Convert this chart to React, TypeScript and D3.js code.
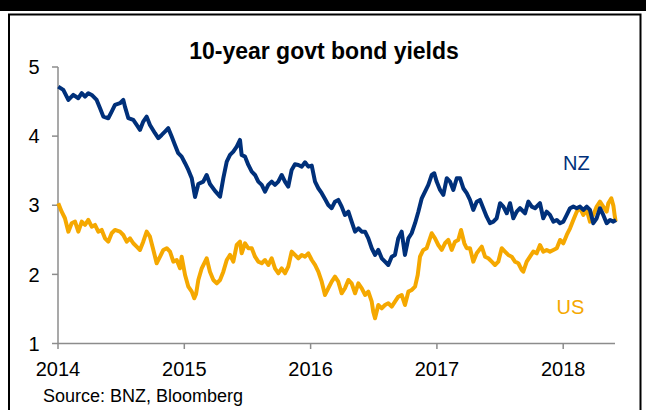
import React from "react";
import * as d3 from "d3";

const title = "10-year govt bond yields";
const sourceText = "Source: BNZ, Bloomberg";
const yTicks = [1, 2, 3, 4, 5];
const xTicks = [2014, 2015, 2016, 2017, 2018];
const seriesNames = ["NZ", "US"];

// [decimal year, yield %]
const nzSeries: [number, number][] = [
  [2014.002, 4.716], [2014.042, 4.669], [2014.082, 4.524], [2014.121, 4.596], [2014.161, 4.548],
  [2014.188, 4.621], [2014.214, 4.572], [2014.24, 4.621], [2014.267, 4.596], [2014.306, 4.524],
  [2014.333, 4.404], [2014.359, 4.282], [2014.398, 4.259], [2014.425, 4.355], [2014.451, 4.452],
  [2014.491, 4.476], [2014.517, 4.524], [2014.53, 4.427], [2014.557, 4.259], [2014.596, 4.234],
  [2014.623, 4.162], [2014.649, 4.09], [2014.675, 4.21], [2014.702, 4.282], [2014.728, 4.162],
  [2014.768, 4.042], [2014.794, 3.97], [2014.821, 4.017], [2014.847, 4.065], [2014.873, 4.114],
  [2014.9, 3.993], [2014.926, 3.873], [2014.952, 3.753], [2014.979, 3.703], [2015.006, 3.608],
  [2015.032, 3.511], [2015.059, 3.391], [2015.085, 3.12], [2015.111, 3.308], [2015.15, 3.342],
  [2015.177, 3.438], [2015.203, 3.308], [2015.243, 3.207], [2015.283, 3.124], [2015.309, 3.391],
  [2015.336, 3.631], [2015.362, 3.728], [2015.388, 3.776], [2015.415, 3.848], [2015.441, 3.945],
  [2015.454, 3.728], [2015.481, 3.703], [2015.507, 3.583], [2015.534, 3.486], [2015.56, 3.438],
  [2015.586, 3.342], [2015.613, 3.294], [2015.639, 3.197], [2015.665, 3.294], [2015.692, 3.342],
  [2015.718, 3.294], [2015.744, 3.342], [2015.771, 3.438], [2015.797, 3.342], [2015.823, 3.269],
  [2015.85, 3.511], [2015.876, 3.593], [2015.903, 3.583], [2015.93, 3.559], [2015.956, 3.622],
  [2015.982, 3.559], [2016.009, 3.573], [2016.035, 3.342], [2016.061, 3.246], [2016.088, 3.174],
  [2016.114, 3.091], [2016.14, 3.004], [2016.167, 2.957], [2016.193, 3.052], [2016.219, 3.077],
  [2016.246, 2.98], [2016.272, 2.86], [2016.299, 2.907], [2016.325, 2.763], [2016.352, 2.618],
  [2016.378, 2.667], [2016.405, 2.618], [2016.431, 2.618], [2016.457, 2.522], [2016.484, 2.378],
  [2016.51, 2.281], [2016.536, 2.353], [2016.563, 2.233], [2016.589, 2.184], [2016.615, 2.136],
  [2016.642, 2.256], [2016.668, 2.281], [2016.694, 2.522], [2016.721, 2.618], [2016.747, 2.281],
  [2016.774, 2.522], [2016.8, 2.595], [2016.827, 2.74], [2016.853, 2.907], [2016.88, 3.101],
  [2016.906, 3.197], [2016.932, 3.294], [2016.959, 3.438], [2016.979, 3.463], [2016.998, 3.342],
  [2017.025, 3.221], [2017.051, 3.149], [2017.078, 3.391], [2017.104, 3.342], [2017.13, 3.221],
  [2017.157, 3.391], [2017.183, 3.391], [2017.209, 3.246], [2017.236, 3.174], [2017.262, 3.077],
  [2017.288, 2.932], [2017.315, 3.052], [2017.341, 3.077], [2017.367, 2.957], [2017.394, 2.835],
  [2017.42, 2.74], [2017.447, 2.763], [2017.473, 2.812], [2017.5, 3.029], [2017.526, 2.98],
  [2017.553, 2.884], [2017.579, 3.029], [2017.605, 2.812], [2017.632, 2.907], [2017.658, 2.957],
  [2017.698, 2.884], [2017.724, 3.052], [2017.751, 2.98], [2017.777, 2.957], [2017.816, 3.029],
  [2017.842, 2.812], [2017.869, 2.907], [2017.895, 2.86], [2017.922, 2.763], [2017.949, 2.787],
  [2017.975, 2.74], [2018.001, 2.763], [2018.028, 2.86], [2018.054, 2.957], [2018.08, 2.98],
  [2018.107, 2.957], [2018.133, 2.98], [2018.159, 2.932], [2018.186, 2.98], [2018.212, 2.932],
  [2018.238, 2.74], [2018.265, 2.812], [2018.291, 2.957], [2018.317, 2.86], [2018.344, 2.74],
  [2018.371, 2.787], [2018.397, 2.763], [2018.418, 2.787],
];

const usSeries: [number, number][] = [
  [2014.002, 3.029], [2014.029, 2.907], [2014.055, 2.812], [2014.082, 2.618], [2014.108, 2.74],
  [2014.135, 2.763], [2014.161, 2.618], [2014.188, 2.763], [2014.214, 2.715], [2014.24, 2.787],
  [2014.267, 2.69], [2014.293, 2.715], [2014.319, 2.618], [2014.346, 2.643], [2014.372, 2.522],
  [2014.398, 2.473], [2014.425, 2.595], [2014.451, 2.643], [2014.491, 2.618], [2014.517, 2.57],
  [2014.544, 2.473], [2014.57, 2.522], [2014.596, 2.45], [2014.623, 2.401], [2014.649, 2.353],
  [2014.675, 2.473], [2014.702, 2.618], [2014.728, 2.546], [2014.755, 2.353], [2014.781, 2.161],
  [2014.808, 2.256], [2014.834, 2.353], [2014.861, 2.378], [2014.887, 2.329], [2014.913, 2.184],
  [2014.94, 2.208], [2014.966, 2.088], [2014.979, 2.256], [2015.006, 1.991], [2015.032, 1.822],
  [2015.059, 1.75], [2015.079, 1.654], [2015.093, 1.716], [2015.111, 1.919], [2015.138, 2.088],
  [2015.177, 2.233], [2015.203, 2.039], [2015.23, 1.919], [2015.257, 1.871], [2015.283, 1.919],
  [2015.309, 2.039], [2015.336, 2.208], [2015.362, 2.281], [2015.388, 2.184], [2015.415, 2.425],
  [2015.441, 2.473], [2015.454, 2.305], [2015.481, 2.45], [2015.507, 2.378], [2015.534, 2.378],
  [2015.56, 2.256], [2015.586, 2.184], [2015.613, 2.161], [2015.639, 2.208], [2015.665, 2.136],
  [2015.692, 2.233], [2015.718, 2.088], [2015.744, 2.016], [2015.771, 2.088], [2015.797, 2.016],
  [2015.823, 2.111], [2015.85, 2.329], [2015.876, 2.281], [2015.903, 2.233], [2015.93, 2.281],
  [2015.956, 2.256], [2015.982, 2.305], [2016.009, 2.208], [2016.035, 2.136], [2016.061, 2.039],
  [2016.088, 1.894], [2016.114, 1.702], [2016.14, 1.799], [2016.167, 1.894], [2016.193, 1.967],
  [2016.219, 1.894], [2016.246, 1.726], [2016.272, 1.799], [2016.299, 1.919], [2016.325, 1.871],
  [2016.352, 1.726], [2016.378, 1.871], [2016.405, 1.799], [2016.431, 1.702], [2016.457, 1.75],
  [2016.484, 1.605], [2016.496, 1.46], [2016.51, 1.365], [2016.536, 1.557], [2016.563, 1.509],
  [2016.589, 1.557], [2016.615, 1.582], [2016.642, 1.533], [2016.668, 1.605], [2016.694, 1.677],
  [2016.721, 1.702], [2016.747, 1.557], [2016.774, 1.75], [2016.8, 1.774], [2016.827, 1.822],
  [2016.848, 1.991], [2016.866, 2.256], [2016.892, 2.353], [2016.919, 2.378], [2016.945, 2.522],
  [2016.959, 2.595], [2016.985, 2.522], [2017.011, 2.425], [2017.038, 2.353], [2017.064, 2.45],
  [2017.09, 2.498], [2017.117, 2.353], [2017.143, 2.473], [2017.169, 2.498], [2017.191, 2.643],
  [2017.217, 2.45], [2017.236, 2.378], [2017.262, 2.378], [2017.288, 2.184], [2017.315, 2.305],
  [2017.355, 2.401], [2017.381, 2.256], [2017.407, 2.233], [2017.434, 2.184], [2017.46, 2.136],
  [2017.486, 2.184], [2017.513, 2.378], [2017.539, 2.329], [2017.565, 2.281], [2017.592, 2.256],
  [2017.618, 2.184], [2017.645, 2.161], [2017.671, 2.064], [2017.684, 2.039], [2017.711, 2.184],
  [2017.737, 2.256], [2017.763, 2.329], [2017.79, 2.305], [2017.816, 2.425], [2017.842, 2.329],
  [2017.869, 2.353], [2017.895, 2.329], [2017.922, 2.353], [2017.949, 2.378], [2017.975, 2.498],
  [2018.001, 2.45], [2018.028, 2.57], [2018.054, 2.667], [2018.08, 2.787], [2018.107, 2.907],
  [2018.133, 2.957], [2018.159, 2.86], [2018.186, 2.932], [2018.212, 2.763], [2018.238, 2.86],
  [2018.265, 2.98], [2018.291, 3.052], [2018.317, 2.98], [2018.344, 2.907], [2018.357, 3.029],
  [2018.381, 3.101], [2018.397, 2.995], [2018.407, 2.86], [2018.415, 2.763],
];

const NZ_COLOR = "#00307a";
const US_COLOR = "#f5a800";
const AXIS_COLOR = "#8c8c8c";
const FONT = "'Liberation Sans', Arial, Helvetica, sans-serif";

export default function App() {
  const W = 646;
  const H = 410;
  const x = d3.scaleLinear().domain([2014, 2018.41]).range([58, 615]);
  const y = d3.scaleLinear().domain([1, 5]).range([343.5, 67]);
  const line = d3
    .line<[number, number]>()
    .x((d) => x(d[0]))
    .y((d) => y(d[1]))
    .curve(d3.curveLinear);

  const x0 = x.range()[0];
  const y0 = y(1);

  return (
    <svg
      width={W}
      height={H}
      style={{ position: "absolute", left: 0, top: 0, display: "block", background: "#fff" }}
      fontFamily={FONT}
    >
      <rect x={0} y={0} width={W} height={H} fill="#fff" />
      {/* top black band */}
      <rect x={0} y={0} width={W} height={11} fill="#000" />
      {/* frame */}
      <path d={`M9,${H + 5} V14.5 H640.5 V${H + 5}`} fill="none" stroke="#000" strokeWidth={2} />

      <text x={324} y={59} textAnchor="middle" fontSize={23} fontWeight="bold" fill="#000">
        {title}
      </text>

      {/* y axis */}
      <line x1={x0} x2={x0} y1={y(5)} y2={y0} stroke={AXIS_COLOR} strokeWidth={1.5} />
      {yTicks.map((t) => (
        <g key={"y" + t}>
          <line x1={x0 - 6} x2={x0} y1={y(t)} y2={y(t)} stroke={AXIS_COLOR} strokeWidth={1.5} />
          <text x={39.5} y={y(t)} dy="0.36em" textAnchor="end" fontSize={20} fill="#000">
            {t}
          </text>
        </g>
      ))}

      {/* x axis */}
      <line x1={x0} x2={x.range()[1]} y1={y0} y2={y0} stroke={AXIS_COLOR} strokeWidth={1.5} />
      {xTicks.map((t) => (
        <g key={"x" + t}>
          <line x1={x(t)} x2={x(t)} y1={y0} y2={y0 + 5.5} stroke={AXIS_COLOR} strokeWidth={1.5} />
          <text x={x(t)} y={376} textAnchor="middle" fontSize={20} fill="#000">
            {t}
          </text>
        </g>
      ))}

      {/* series */}
      <path d={line(usSeries) || ""} fill="none" stroke={US_COLOR} strokeWidth={4} strokeLinejoin="round" />
      <path d={line(nzSeries) || ""} fill="none" stroke={NZ_COLOR} strokeWidth={4} strokeLinejoin="round" />

      <text x={563} y={170} fontSize={20} fill={NZ_COLOR}>
        {seriesNames[0]}
      </text>
      <text x={556.5} y={314} fontSize={20} fill={US_COLOR}>
        {seriesNames[1]}
      </text>

      <text x={43} y={401.5} fontSize={18} fill="#000">
        {sourceText}
      </text>
    </svg>
  );
}
